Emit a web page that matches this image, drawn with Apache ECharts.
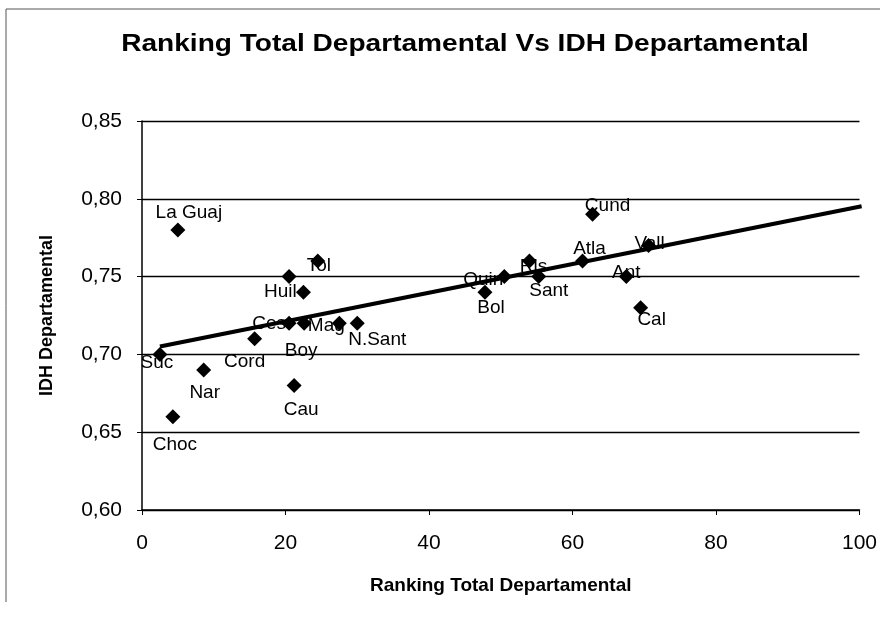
<!DOCTYPE html>
<html>
<head>
<meta charset="utf-8">
<script src="https://cdn.jsdelivr.net/npm/echarts@6/dist/echarts.min.js"></script>
<style>
  html, body { margin: 0; padding: 0; background: #fff; }
  #chart { width: 880px; height: 620px; }
</style>
</head>
<body>
<div id="chart"></div>
<script>
// Department labels, ranking (x) and IDH (y)
const names = ['Suc', 'Choc', 'La Guaj', 'Nar', 'Cord', 'Cau', '', 'Huil', 'Tol', 'Ces', 'Boy', 'Mag', 'N.Sant',
  'Quin', 'Bol', 'Ris', 'Sant', 'Atla', 'Cund', 'Vall', 'Ant', 'Cal', 'Bog'];
const ranking = [2.5, 4.3, 5.0, 8.6, 15.7, 21.2, 20.5, 22.5, 24.5, 20.5, 22.6, 27.5, 30.0,
  50.5, 47.8, 54.0, 55.3, 61.4, 62.8, 70.6, 67.5, 69.5, 100.3];
const idh = [0.70, 0.66, 0.78, 0.69, 0.71, 0.68, 0.75, 0.74, 0.76, 0.72, 0.72, 0.72, 0.72,
  0.75, 0.74, 0.76, 0.75, 0.76, 0.79, 0.77, 0.75, 0.73, 0.81];
const yTicks = [0.60, 0.65, 0.70, 0.75, 0.80, 0.85];
const xTicks = [0, 20, 40, 60, 80, 100];
const titleText = 'Ranking Total Departamental Vs IDH Departamental';

// Label offsets (px) from each marker centre
const labelOffsets = [[-3, 8], [2, 28], [11, -17], [1, 23], [-10, 23], [7, 24], [0, 0], [-23, 0], [1, 5],
  [-20, 0], [-3, 27], [-13, 2], [20, 16], [-21, 3], [6, 16], [4, 6], [10, 14], [7, -12], [15, -9],
  [1, -2], [0, -4], [11, 12], [-34, 0]];

// Least-squares linear trend
const n = ranking.length;
const mx = ranking.reduce((a, b) => a + b, 0) / n;
const my = idh.reduce((a, b) => a + b, 0) / n;
let sxy = 0, sxx = 0;
for (let i = 0; i < n; i++) {
  sxy += (ranking[i] - mx) * (idh[i] - my);
  sxx += (ranking[i] - mx) * (ranking[i] - mx);
}
const slope = sxy / sxx;
const intercept = my - slope * mx;
const xMin = Math.min(...ranking), xMax = Math.max(...ranking);
const trend = [[xMin, intercept + slope * xMin], [xMax, intercept + slope * xMax]];

const points = ranking.map((x, i) => [x, idh[i]]);
const labelPoints = ranking.map((x, i) => ({
  value: [x, idh[i]],
  label: { show: names[i] !== '', formatter: names[i], offset: labelOffsets[i] }
}));

const font = '"Liberation Sans", Arial, sans-serif';
const chart = echarts.init(document.getElementById('chart'), null, { renderer: 'canvas' });
chart.setOption({
  animation: false,
  backgroundColor: '#fff',
  grid: { left: 142, right: 19, top: 121, bottom: 110 },
  xAxis: {
    type: 'value', min: xTicks[0], max: xTicks[xTicks.length - 1], interval: 20,
    name: 'Ranking Total Departamental', nameLocation: 'middle', nameGap: 66,
    nameTextStyle: { fontFamily: font, fontSize: 19, fontWeight: 'bold', color: '#000' },
    axisLine: { lineStyle: { color: '#000', width: 1.5 } },
    axisTick: { show: true, length: 5, lineStyle: { color: '#000' } },
    axisLabel: { fontFamily: font, fontSize: 21, color: '#000', margin: 23 },
    splitLine: { show: false }
  },
  yAxis: {
    type: 'value', min: yTicks[0], max: yTicks[yTicks.length - 1], interval: 0.05,
    name: 'IDH Departamental', nameLocation: 'middle', nameGap: 86, nameRotate: 90,
    nameTextStyle: { fontFamily: font, fontSize: 18, fontWeight: 'bold', color: '#000' },
    axisLine: { show: true, lineStyle: { color: '#000', width: 1.5 } },
    axisTick: { show: true, length: 5, lineStyle: { color: '#000' } },
    axisLabel: {
      fontFamily: font, fontSize: 21, color: '#000', margin: 20,
      formatter: v => v.toFixed(2).replace('.', ',')
    },
    splitLine: { show: true, lineStyle: { color: '#000', width: 1.3 } }
  },
  series: [
    {
      // text labels sit beneath the trend line and markers
      type: 'scatter', z: 1, symbolSize: 1, silent: true,
      itemStyle: { color: 'transparent', opacity: 1 },
      label: {
        show: true, position: 'inside', align: 'center', verticalAlign: 'middle',
        fontFamily: font, fontSize: 19, color: '#000', opacity: 1
      },
      data: labelPoints
    },
    {
      type: 'line', z: 2, data: trend, symbol: 'none', silent: true,
      lineStyle: { color: '#000', width: 4 }
    },
    {
      type: 'scatter', z: 3, symbol: 'diamond', symbolSize: 15,
      itemStyle: { color: '#000', opacity: 1 },
      data: points
    }
  ],
  graphic: [
    { type: 'line', shape: { x1: 6, y1: 9, x2: 6, y2: 602 }, style: { stroke: '#555', lineWidth: 1 } },
    { type: 'line', shape: { x1: 6, y1: 9, x2: 880, y2: 9 }, style: { stroke: '#555', lineWidth: 1 } },
    {
      type: 'text', x: 465, y: 44, scaleX: 1.17,
      style: {
        text: titleText, font: 'bold 24px "Liberation Sans", Arial, sans-serif',
        fill: '#000', align: 'center', verticalAlign: 'middle'
      }
    }
  ]
});
</script>
</body>
</html>
